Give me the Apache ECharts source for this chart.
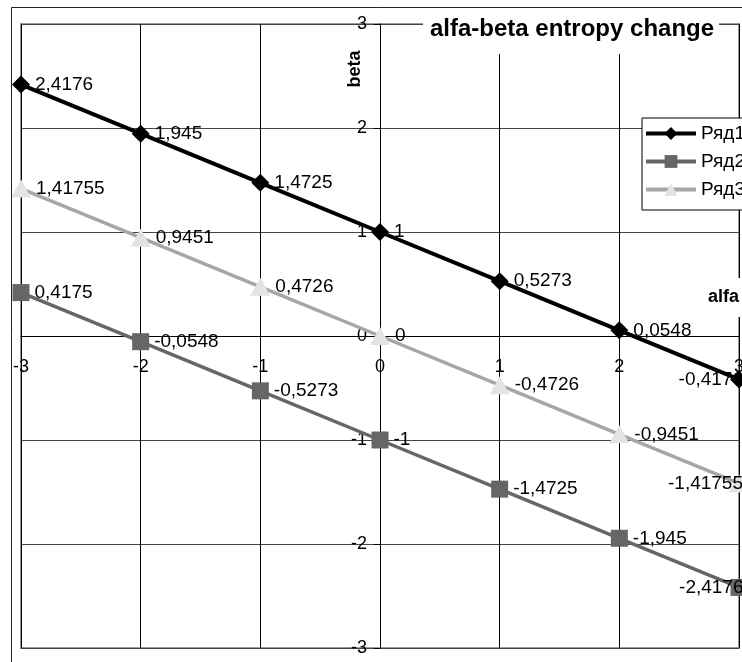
<!DOCTYPE html>
<html>
<head>
<meta charset="utf-8">
<script src="https://cdn.jsdelivr.net/npm/echarts@6/dist/echarts.min.js"></script>
<style>
html,body{margin:0;padding:0;background:#fff;}
#chart{width:742px;height:662px;}
</style>
</head>
<body>
<div id="chart"></div>
<script>
const alfa = [-3, -2, -1, 0, 1, 2, 3];
const seriesNames = ['Ряд1', 'Ряд2', 'Ряд3'];
const ryad1 = [2.4176, 1.945, 1.4725, 1, 0.5273, 0.0548, -0.4176];
const ryad2 = [0.4175, -0.0548, -0.5273, -1, -1.4725, -1.945, -2.4176];
const ryad3 = [1.41755, 0.9451, 0.4726, 0, -0.4726, -0.9451, -1.41755];
const titleText = 'alfa-beta entropy change';
const xName = 'alfa';
const yName = 'beta';

const FONT = '"Liberation Sans", Arial, sans-serif';
const fmt = v => String(v).replace('.', ',');

function buildData(vals, lastOffset) {
  return alfa.map((a, i) => {
    if (i === alfa.length - 1) {
      return { value: [a, vals[i]], label: { position: 'left', offset: [lastOffset, 0] } };
    }
    return [a, vals[i]];
  });
}

function makeSeries(name, vals, lineColor, lineWidth, symbol, symbolSize, symColor, lastOffset) {
  return {
    name: name,
    type: 'line',
    data: buildData(vals, lastOffset),
    symbol: symbol,
    symbolSize: symbolSize,
    showAllSymbol: true,
    clip: false,
    lineStyle: { color: lineColor, width: lineWidth },
    itemStyle: { color: symColor, borderWidth: 0 },
    label: {
      show: true,
      position: 'right',
      distance: 5,
      color: '#000',
      fontSize: 19,
      fontFamily: FONT,
      formatter: p => fmt(p.value[1])
    },
    emphasis: { disabled: true },
    z: 3
  };
}

const chart = echarts.init(document.getElementById('chart'), null, { renderer: 'canvas' });
const option = {
  animation: false,
  backgroundColor: '#fff',
  title: {
    text: titleText,
    left: 423,
    top: 10,
    padding: [7, 5, 13, 7],
    backgroundColor: '#fff',
    textStyle: { fontFamily: FONT, fontSize: 24, fontWeight: 'bold', color: '#000' }
  },
  legend: {
    data: seriesNames,
    orient: 'vertical',
    left: 642,
    top: 118,
    padding: [6, 60, 11, 2],
    itemGap: 9,
    itemWidth: 50,
    itemHeight: 16,
    lineStyle: { width: 4 },
    backgroundColor: '#fff',
    borderColor: '#000',
    borderWidth: 1,
    textStyle: { fontFamily: FONT, fontSize: 19, color: '#000' }
  },
  grid: {
    left: 21, right: 3, top: 24, bottom: 14,
    show: true,
    borderColor: '#999',
    borderWidth: 2,
    containLabel: false,
    outerBoundsMode: 'none'
  },
  xAxis: {
    type: 'value',
    min: -3, max: 3, interval: 1,
    position: 'bottom',
    offset: 0,
    axisLine: { onZero: false, lineStyle: { color: '#000', width: 1 } },
    axisTick: { show: true, length: 5, lineStyle: { color: '#000' } },
    axisLabel: { margin: 22, fontSize: 18, color: '#000', fontFamily: FONT },
    splitLine: { show: true, lineStyle: { color: '#000', width: 1 } }
  },
  yAxis: {
    type: 'value',
    min: -3, max: 3, interval: 1,
    position: 'left',
    offset: 0,
    axisLine: { onZero: false, lineStyle: { color: '#000', width: 1 } },
    axisTick: { show: true, length: 6, lineStyle: { color: '#000' } },
    axisLabel: { margin: 13, fontSize: 18, color: '#000', fontFamily: FONT },
    splitLine: { show: true, lineStyle: { color: '#444', width: 1 } }
  },
  series: [
    makeSeries(seriesNames[0], ryad1, '#000', 4, 'diamond', 18, '#000', 18),
    makeSeries(seriesNames[1], ryad2, '#666', 3.5, 'rect', 17, '#666', 18),
    makeSeries(seriesNames[2], ryad3, '#a6a6a6', 3.5, 'triangle', [20, 18], '#e3e3e3', 19)
  ],
  graphic: [
    {
      type: 'rect', z: 100, silent: true,
      shape: { x: 11.5, y: 7.5, width: 800, height: 700 },
      style: { fill: 'none', stroke: '#222', lineWidth: 1 }
    },
    {
      type: 'rect', z: 100, silent: true,
      shape: { x: 700, y: 278, width: 50, height: 39 },
      style: { fill: '#fff' }
    },
    {
      type: 'text', z: 101, silent: true,
      x: 708, y: 297,
      style: { text: xName, fontFamily: FONT, fontSize: 18, fontWeight: 'bold', fill: '#000', align: 'left', verticalAlign: 'middle' }
    },
    {
      type: 'text', z: 101, silent: true,
      x: 355.5, y: 69, rotation: Math.PI / 2,
      style: { text: yName, fontFamily: FONT, fontSize: 18, fontWeight: 'bold', fill: '#000', align: 'center', verticalAlign: 'middle' }
    }
  ]
};
chart.setOption(option);

// Move both axes so they cross at the origin (value 0), using the library's own scale.
const origin = chart.convertToPixel({ gridIndex: 0 }, [0, 0]);
const corner = chart.convertToPixel({ gridIndex: 0 }, [-3, -3]);
chart.setOption({
  xAxis: { offset: -(corner[1] - origin[1]) },
  yAxis: { offset: -(origin[0] - corner[0]) }
});
</script>
</body>
</html>
